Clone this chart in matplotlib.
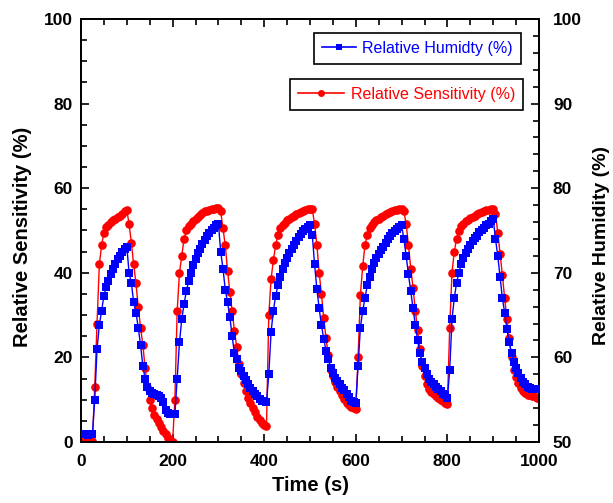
import matplotlib
matplotlib.use("Agg")
import matplotlib.pyplot as plt
from matplotlib.lines import Line2D

# ---------------- data ----------------
time_s = list(range(0, 1001, 5))

relative_sensitivity = [
    0, 0, 0, 0, 0, 0.3, 13, 28, 42, 46.5, 49.5, 50.8, 51.4, 52, 52.4, 52.7, 53.1, 53.5, 54, 54.5,
    54.8, 51.5, 47, 42, 37.5, 32, 27, 23, 17.5, 13, 10, 8, 6.5, 5.5, 4.5, 3.5, 2.7, 1.8, 1, 0.4,
    0, 10, 31, 40, 44, 48, 50, 51, 51.6, 52.2, 52.8, 53.2, 53.7, 54.2, 54.5, 54.7, 54.9, 55.1, 55.2, 55.3,
    55.3, 54.5, 50.5, 46.5, 40.5, 35.5, 31, 26.3, 22.5, 18.5, 16, 14, 12, 10.5, 9.2, 8, 7, 6, 5.2, 4.5,
    4, 3.8, 30, 38.5, 43, 46.5, 49, 50.5, 51.2, 51.8, 52.4, 52.8, 53.2, 53.5, 53.8, 54.1, 54.4, 54.6, 54.8, 55,
    55.1, 55, 51.5, 46.6, 40, 35, 29.3, 24.5, 20.5, 17, 15.5, 14.2, 13, 12, 11, 10.2, 9.3, 8.7, 8.3, 8,
    7.8, 20, 34.7, 41.5, 46.5, 49, 50.5, 51.3, 52, 52.4, 52.8, 53.2, 53.5, 53.8, 54.1, 54.4, 54.6, 54.8, 54.9, 55,
    55.1, 54.5, 51.5, 46.5, 41, 36.5, 31, 26.5, 22, 18, 15.5, 13.8, 12.6, 11.8, 11.3, 10.8, 10.4, 10, 9.6, 9.3,
    9, 27, 40, 45, 48, 49.8, 51, 51.6, 52.2, 52.6, 53, 53.3, 53.5, 53.8, 54.1, 54.4, 54.6, 54.8, 54.9, 55,
    55, 54, 49.5, 44.5, 39.5, 34, 29, 24.5, 20, 17, 15.3, 14, 12.8, 12, 11.5, 11.2, 11, 10.9, 10.8, 10.5,
    10.3,
]

relative_humidity = [
    51.0, 51.0, 50.9, 50.8, 50.9, 51.0, 55.0, 61.0, 63.8, 65.5, 67.3, 68.3, 69.0, 69.8, 70.4, 71.0, 71.6, 72.0, 72.4, 72.8,
    73.1, 70.0, 68.8, 66.5, 65.3, 63.5, 61.5, 59.0, 57.5, 56.5, 56.0, 55.8, 55.7, 55.5, 55.4, 55.2, 54.7, 53.8, 53.4, 53.3,
    53.3, 53.3, 57.5, 61.8, 64.5, 66.3, 67.8, 69.0, 70.0, 70.9, 71.6, 72.3, 72.8, 73.4, 73.9, 74.3, 74.7, 75.0, 75.3, 75.6,
    75.8, 72.5, 70.5, 68.0, 66.5, 64.8, 62.5, 60.5, 59.8, 58.8, 58.4, 57.8, 57.3, 56.8, 56.4, 56.0, 55.7, 55.4, 55.1, 54.9,
    54.8, 54.7, 58.0, 63.0, 65.5, 67.3, 68.5, 69.5, 70.4, 71.2, 71.8, 72.3, 72.8, 73.3, 73.8, 74.2, 74.6, 74.9, 75.2, 75.4,
    75.6, 74.5, 71.0, 68.1, 65.8, 63.8, 62.2, 60.8, 59.8, 58.8, 58.1, 57.6, 57.2, 56.8, 56.4, 56.1, 55.7, 55.3, 54.9, 54.7,
    54.6, 59.0, 63.5, 65.5, 67.0, 68.5, 69.5, 70.4, 71.2, 71.7, 72.2, 72.7, 73.1, 73.5, 74.0, 74.4, 74.7, 74.9, 75.2, 75.4,
    75.6, 74.0, 72.0, 69.8, 67.8, 65.8, 63.8, 62.0, 60.5, 59.5, 58.7, 58.0, 57.5, 57.1, 56.8, 56.5, 56.3, 56.0, 55.7, 55.5,
    55.2, 58.5, 64.5, 67.0, 68.8, 70.0, 71.0, 71.7, 72.3, 72.8, 73.3, 73.7, 74.1, 74.4, 74.8, 75.1, 75.3, 75.6, 75.8, 76.1,
    76.4, 74.0, 72.0, 69.5, 67.0, 65.3, 63.3, 61.8, 60.5, 59.5, 58.8, 58.1, 57.6, 57.1, 56.8, 56.5, 56.4, 56.3, 56.3, 56.3,
    56.3,
]

x_ticks = [0, 200, 400, 600, 800, 1000]
left_ticks = [0, 20, 40, 60, 80, 100]
right_ticks = [50, 60, 70, 80, 90, 100]

label_humidity = "Relative Humidty (%)"
label_sensitivity = "Relative Sensitivity (%)"

# ---------------- style ----------------
plt.rcParams['font.family'] = ['Liberation Sans', 'DejaVu Sans']
RED = '#ff0000'
BLUE = '#0000ff'

fig = plt.figure(figsize=(6.13, 5.03), dpi=100)
ax = fig.add_axes([81/613, 1 - 442/503, (539-81)/613, (442-19)/503])
ax2 = ax.twinx()

ax.plot(time_s, relative_sensitivity, color=RED, lw=1.0, marker='o', ms=6.2,
        markeredgewidth=0, zorder=2)
ax2.plot(time_s, relative_humidity, color=BLUE, lw=1.0, marker='s', ms=5.8,
         markeredgewidth=0, zorder=3)

ax.set_xlim(0, 1000)
ax.set_ylim(0, 100)
ax2.set_ylim(50, 100)

ax.set_xticks(x_ticks)
ax.set_xticks(range(0, 1001, 50), minor=True)
ax.set_yticks(left_ticks)
ax.set_yticks(range(0, 101, 5), minor=True)
ax2.set_yticks(right_ticks)
ax2.set_yticks(range(50, 101, 2), minor=True)

tick_font = dict(fontsize=12.5, fontweight='bold')
ax.set_xticklabels([str(v) for v in x_ticks], **tick_font)
ax.set_yticklabels([str(v) for v in left_ticks], **tick_font)
ax2.set_yticklabels([str(v) for v in right_ticks], **tick_font)

ax.tick_params(axis='x', which='both', direction='in', top=True, bottom=True, width=1.2)
ax.tick_params(axis='x', which='major', length=6, pad=9)
ax.tick_params(axis='x', which='minor', length=4)
ax.tick_params(axis='y', which='both', direction='in', left=True, right=False, width=1.2)
ax.tick_params(axis='y', which='major', length=6, pad=6)
ax.tick_params(axis='y', which='minor', length=4)
ax2.tick_params(axis='y', which='both', direction='in', right=True, left=False, width=1.2)
ax2.tick_params(axis='y', which='major', length=6, pad=10)
ax2.tick_params(axis='y', which='minor', length=4)

for a in (ax, ax2):
    for s in a.spines.values():
        s.set_linewidth(1.3)

ax.set_xlabel("Time (s)", fontsize=14.5, fontweight='bold', labelpad=5)
ax.set_ylabel("Relative Sensitivity (%)", fontsize=14.5, fontweight='bold')
ax.yaxis.set_label_coords(-0.108, 0.485)
ax2.set_ylabel("Relative Humidity (%)", fontsize=14, fontweight='bold')
ax2.yaxis.set_label_coords(1.117, 0.465)

# ---------------- legends ----------------
h_blue = Line2D([], [], color=BLUE, lw=1.2, marker='s', ms=5, markeredgewidth=0)
h_red = Line2D([], [], color=RED, lw=1.2, marker='o', ms=5, markeredgewidth=0)

leg1 = ax2.legend([h_blue], [label_humidity], loc='upper right',
                  bbox_to_anchor=(521/613, 1 - 33/503), bbox_transform=fig.transFigure,
                  fancybox=False, edgecolor='black', framealpha=1, fontsize=11.5,
                  handlelength=2.1, handletextpad=0.4, borderpad=0.5, borderaxespad=0)
leg1.get_frame().set_linewidth(1.2)
for t in leg1.get_texts():
    t.set_color(BLUE)
ax2.add_artist(leg1)

leg2 = ax2.legend([h_red], [label_sensitivity], loc='upper right',
                  bbox_to_anchor=(523/613, 1 - 79/503), bbox_transform=fig.transFigure,
                  fancybox=False, edgecolor='black', framealpha=1, fontsize=11.5,
                  handlelength=2.9, handletextpad=0.4, borderpad=0.5, borderaxespad=0)
leg2.get_frame().set_linewidth(1.2)
for t in leg2.get_texts():
    t.set_color(RED)

fig.savefig("out.png", dpi=100)
